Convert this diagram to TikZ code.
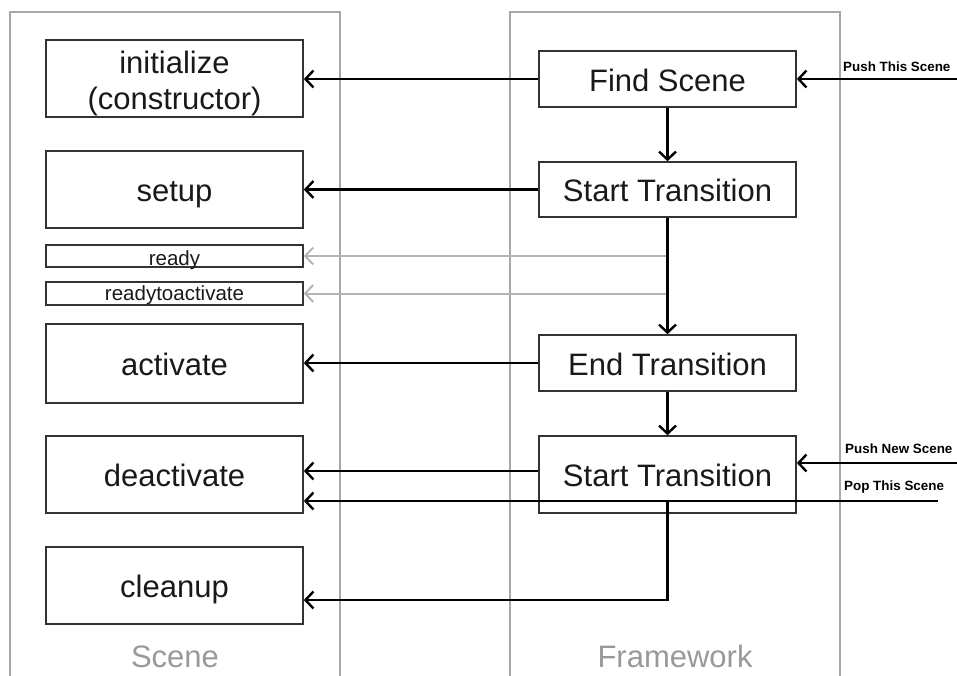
\documentclass[tikz,border=0pt]{standalone}
\usepackage{fontspec}
\setmainfont{Liberation Sans}
\usetikzlibrary{arrows.meta}
\definecolor{panelgray}{HTML}{A8A8A8}
\definecolor{labelgray}{HTML}{999999}
\definecolor{boxline}{HTML}{333333}
\definecolor{ghost}{HTML}{B4B4B4}
\tikzset{
  panel/.style={draw=panelgray, line width=1.8pt},
  box/.style={draw=boxline, line width=1.6pt, minimum width=257pt, inner sep=0pt,
    text=black!90, font=\fontsize{31}{37}\selectfont, text height=24pt, text depth=0pt},
  boxtext/.style={text=black!90, font=\fontsize{31}{36}\selectfont, inner sep=0pt, anchor=base},
  smallbox/.style={draw=boxline, line width=1.6pt, minimum width=257pt, inner xsep=0pt, inner ysep=0pt,
    text=black!90, font=\fontsize{20.5}{22}\selectfont},
  flow/.style={line width=2.7pt, -{Straight Barb[length=8pt,width=17pt,line width=2.4pt]}},
  faint/.style={draw=ghost, line width=2pt, -{Straight Barb[length=8pt,width=17pt,line width=2pt]}},
  tag/.style={font=\bfseries\fontsize{13.4}{16}\selectfont, anchor=base west, inner sep=0pt},
  paneltitle/.style={text=labelgray, font=\fontsize{31}{37}\selectfont, anchor=base}
}
\begin{document}
\begin{tikzpicture}[x=1pt,y=-1pt]
\useasboundingbox (0,0) rectangle (957,675);
% panels
\draw[panel] (10,677) -- (10,12) -- (340,12) -- (340,677);
\draw[panel] (510,677) -- (510,12) -- (840,12) -- (840,677);
\node[paneltitle] (scenetitle) at (175,667) {Scene};
\node[paneltitle] (fwtitle) at (675,667) {Framework};
% scene boxes
\node[box, minimum height=77pt] (init) at (174.5,78.5) {};
\node[boxtext] (inittop) at (174.5,73) {initialize};
\node[boxtext] (initbot) at (174.5,109) {(constructor)};
\node[box, minimum height=77pt] (setup) at (174.5,189.5) {setup};
\node[smallbox, minimum height=22pt, text height=20pt, text depth=2pt] (ready) at (174.5,256) {ready};
\node[smallbox, minimum height=23pt, text height=18pt, text depth=5pt] (rta) at (174.5,293.5) {readytoactivate};
\node[box, minimum height=79pt] (act) at (174.5,363.5) {activate};
\node[box, minimum height=77pt] (deact) at (174.5,474.5) {deactivate};
\node[box, minimum height=77pt] (clean) at (174.5,585.5) {cleanup};
% framework boxes
\node[box, minimum height=56pt] (find) at (667.5,79) {Find Scene};
\node[box, minimum height=55pt] (st1) at (667.5,189.5) {Start Transition};
\node[box, minimum height=56pt] (endt) at (667.5,363) {End Transition};
\node[box, minimum height=77pt] (st2) at (667.5,474.5) {Start Transition};
% external inputs
\coordinate (pushthis) at (960,79);
\coordinate (pushnew) at (960,463);
\coordinate (popthis) at (938,501);
\node[tag] (lpushthis) at (843,71) {Push This Scene};
\node[tag] (lpushnew) at (845,453) {Push New Scene};
\node[tag] (lpop) at (844,490) {Pop This Scene};
% connectors
\draw[flow] (pushthis) -- (find.east);
\draw[flow] (find.west) -- (init.east |- find.west);
\draw[flow] (find) -- (st1);
\draw[flow] (st1.west) -- (setup.east |- st1.west);
\draw[faint] (st1.south |- ready.east) -- (ready.east);
\draw[faint] (st1.south |- rta.east) -- (rta.east);
\draw[flow] (st1) -- (endt);
\draw[flow] (endt.west) -- (act.east |- endt.west);
\draw[flow] (endt) -- (st2);
\draw[flow] (pushnew) -- (st2.east |- pushnew);
\draw[flow] ([yshift=3.5pt]st2.west) -- ([yshift=3.5pt]deact.east);
\draw[flow] (popthis) -- (deact.east |- popthis);
\draw[flow] (st2.south |- popthis) |- ([yshift=-14.5pt]clean.east);
\end{tikzpicture}
\end{document}
